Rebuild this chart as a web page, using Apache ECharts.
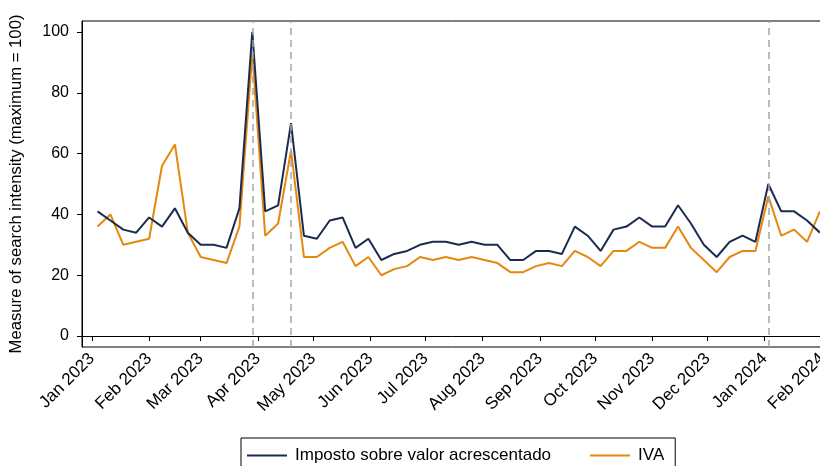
<!DOCTYPE html>
<html>
<head>
<meta charset="utf-8">
<script src="https://cdn.jsdelivr.net/npm/echarts@6/dist/echarts.min.js"></script>
<style>
  html, body { margin: 0; padding: 0; background: #fff; }
  #chart { width: 820px; height: 466px; }
</style>
</head>
<body>
<div id="chart"></div>
<script>
// weekly observations
var weeks = [
  '2023-01-04','2023-01-11','2023-01-18','2023-01-25','2023-02-01','2023-02-08','2023-02-15','2023-02-22',
  '2023-03-01','2023-03-08','2023-03-15','2023-03-22','2023-03-29','2023-04-05','2023-04-12','2023-04-19',
  '2023-04-26','2023-05-03','2023-05-10','2023-05-17','2023-05-24','2023-05-31','2023-06-07','2023-06-14',
  '2023-06-21','2023-06-28','2023-07-05','2023-07-12','2023-07-19','2023-07-26','2023-08-02','2023-08-09',
  '2023-08-16','2023-08-23','2023-08-30','2023-09-06','2023-09-13','2023-09-20','2023-09-27','2023-10-04',
  '2023-10-11','2023-10-18','2023-10-25','2023-11-01','2023-11-08','2023-11-15','2023-11-22','2023-11-29',
  '2023-12-06','2023-12-13','2023-12-20','2023-12-27','2024-01-03','2024-01-10','2024-01-17','2024-01-24',
  '2024-01-31'
];
var imposto = [41,38,35,34,39,36,42,34,30,30,29,42,100,41,43,70,33,32,38,39,29,32,25,27,28,30,31,31,30,31,
               30,30,25,25,28,28,27,36,33,28,35,36,39,36,36,43,37,30,26,31,33,31,50,41,41,38,34];
var iva = [36,40,30,31,32,56,63,34,26,25,24,36,93,33,37,61,26,26,29,31,23,26,20,22,23,26,25,26,25,26,
           25,24,21,21,23,24,23,28,26,23,28,28,31,29,29,36,29,25,21,26,28,28,46,33,35,31,41];
var eventWeeks = ['2023-03-29', '2023-04-19', '2024-01-03'];
var monthTicks = ['2023-01-01','2023-02-01','2023-03-01','2023-04-01','2023-05-01','2023-06-01','2023-07-01',
                  '2023-08-01','2023-09-01','2023-10-01','2023-11-01','2023-12-01','2024-01-01','2024-02-01'];
var yTicks = [0, 20, 40, 60, 80, 100];
var monthNames = ['Jan','Feb','Mar','Apr','May','Jun','Jul','Aug','Sep','Oct','Nov','Dec'];

function ts(s) {
  var p = s.split('-');
  return new Date(+p[0], +p[1] - 1, +p[2]).getTime();
}
var tickValues = monthTicks.map(ts);

var chart = echarts.init(document.getElementById('chart'));
var font = 'Liberation Sans, Arial, Helvetica, sans-serif';

var option = {
  backgroundColor: '#fff',
  animation: false,
  grid: {
    left: 82, top: 21, width: 744, height: 326,
    outerBoundsMode: 'none', containLabel: false,
    show: true, borderColor: '#000', borderWidth: 1, backgroundColor: '#fff'
  },
  legend: {
    left: 241, top: 438,
    padding: [9, 11, 20, 6],
    icon: 'rect',
    itemWidth: 40, itemHeight: 2, itemGap: 39,
    borderColor: '#000', borderWidth: 1,
    textStyle: { fontFamily: font, fontSize: 17, color: '#000', padding: [0, 0, 0, 3] },
    data: ['Imposto sobre valor acrescentado', 'IVA']
  },
  xAxis: {
    type: 'value',
    min: new Date(2022, 11, 26, 14).getTime(),
    max: new Date(2024, 1, 3, 7).getTime(),
    axisLine: { show: true, lineStyle: { color: '#000', width: 1 } },
    axisTick: { show: true, length: 5, lineStyle: { color: '#000' }, customValues: tickValues },
    splitLine: { show: false },
    axisLabel: {
      customValues: tickValues,
      rotate: 45, margin: 9,
      fontFamily: font, fontSize: 17, color: '#000',
      formatter: function (v) {
        var d = new Date(v);
        return monthNames[d.getMonth()] + ' ' + d.getFullYear();
      }
    }
  },
  yAxis: {
    type: 'value',
    min: -3.6, max: 103.6,
    name: 'Measure of search intensity (maximum = 100)',
    nameLocation: 'middle', nameGap: 57, nameRotate: 90,
    nameTextStyle: { fontFamily: font, fontSize: 16.7, color: '#000' },
    axisLine: { show: true, lineStyle: { color: '#000', width: 1 } },
    axisTick: { show: true, length: 5, lineStyle: { color: '#000' }, customValues: yTicks },
    splitLine: { show: false },
    axisLabel: {
      customValues: yTicks, margin: 13,
      fontFamily: font, fontSize: 16, color: '#000'
    }
  },
  series: [
    {
      name: 'Imposto sobre valor acrescentado',
      type: 'line',
      symbol: 'none',
      z: 3,
      color: '#1b2b50',
      lineStyle: { width: 2, color: '#1b2b50' },
      data: weeks.map(function (w, i) { return [ts(w), imposto[i]]; }),
      markLine: {
        silent: true,
        symbol: ['none', 'none'],
        label: { show: false },
        lineStyle: { type: [7, 5], color: '#a6a6a6', width: 1.5 },
        data: eventWeeks.map(function (w) { return { xAxis: ts(w) }; })
      }
    },
    {
      name: 'IVA',
      type: 'line',
      symbol: 'none',
      z: 2,
      color: '#e5880e',
      lineStyle: { width: 2, color: '#e5880e' },
      data: weeks.map(function (w, i) { return [ts(w), iva[i]]; })
    }
  ]
};

chart.setOption(option);
</script>
</body>
</html>
